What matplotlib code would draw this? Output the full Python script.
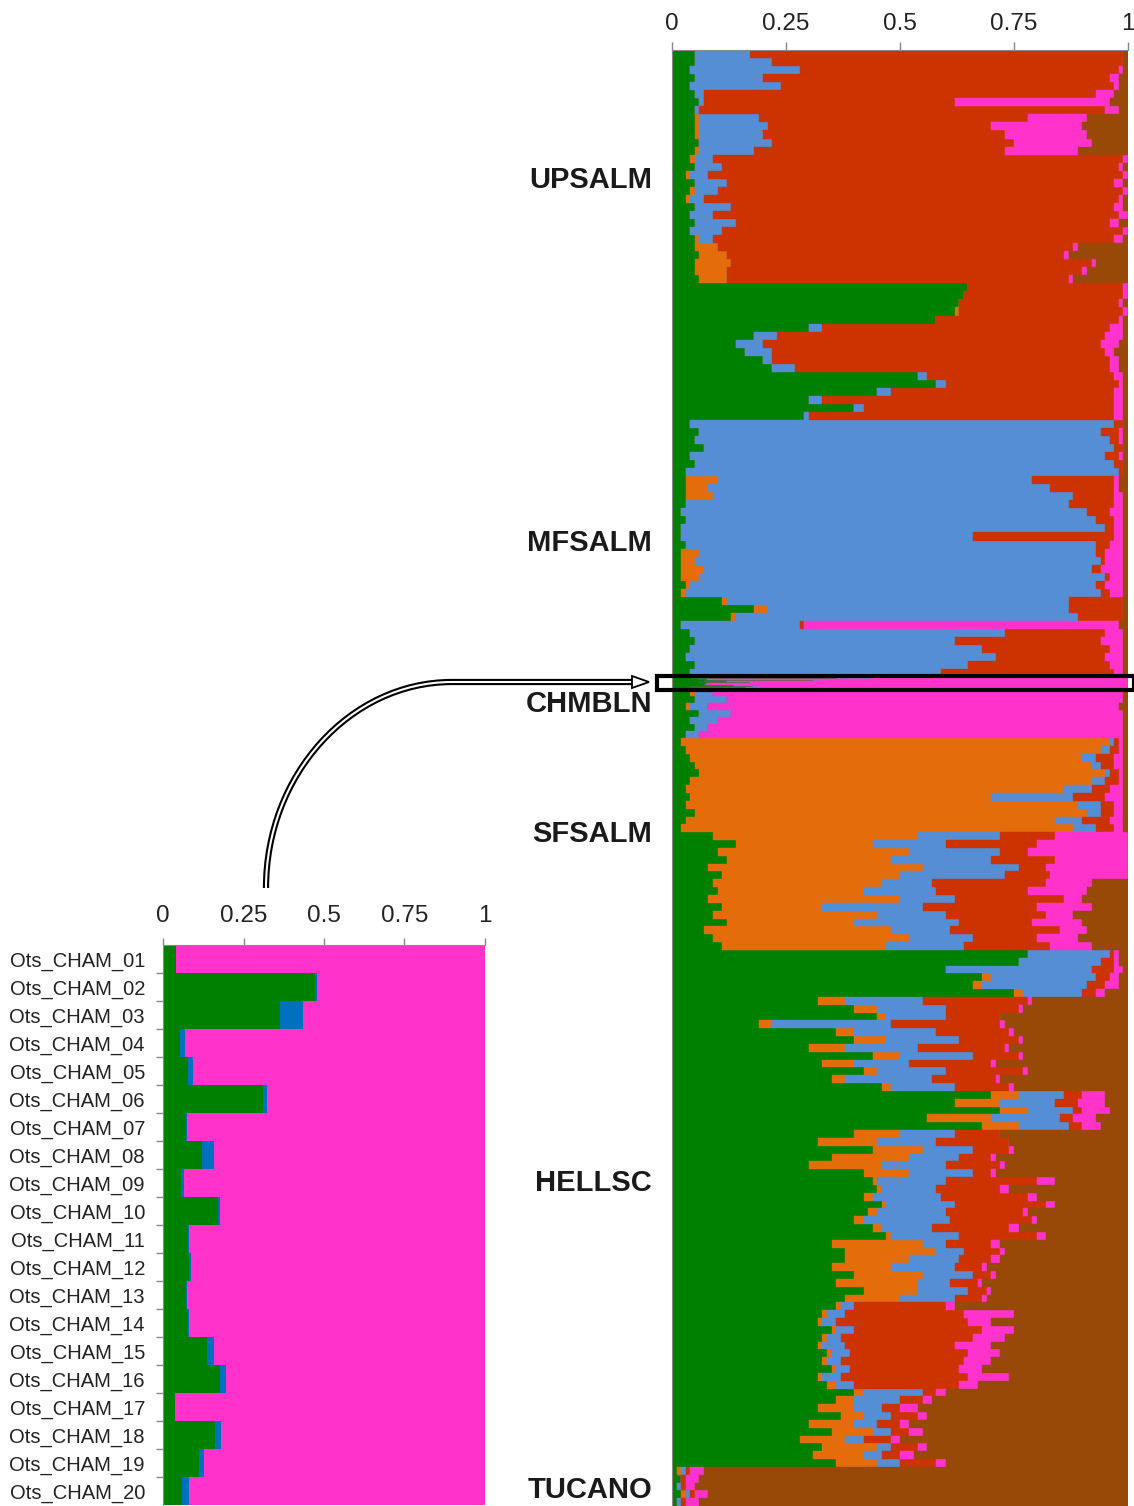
import matplotlib
matplotlib.use('Agg')
import matplotlib.pyplot as plt
from matplotlib.patches import Rectangle, PathPatch, Polygon
from matplotlib.path import Path

plt.rcParams['font.family'] = ['Liberation Sans', 'DejaVu Sans']

# cluster order (left to right) and colours
clusters = ['green', 'orange', 'blue', 'red', 'pink', 'brown']
colors = ['#008000', '#E46C0A', '#558ED5', '#CC3300', '#FF33CC', '#984807']

# populations and number of individuals in each
pops = ['UPSALM', 'MFSALM', 'CHMBLN', 'SFSALM', 'HELLSC', 'TUCANO']
pop_n = [617, 428, 102, 353, 862, 65]

# each row = cumulative % at the right edge of green, orange, blue, red, pink (brown fills to 100)
upsalm = [
    (5, 5, 17, 99, 99), (5, 5, 22, 99, 99), (4, 4, 28, 98, 99), (5, 5, 20, 96, 98), (4, 4, 24, 97, 98),
    (5, 5, 7, 93, 97), (6, 6, 7, 62, 96), (5, 5, 6, 95, 98),
    (5, 6, 19, 78, 91), (5, 6, 21, 70, 90), (5, 6, 20, 73, 91), (6, 6, 22, 75, 92), (5, 6, 18, 73, 89),
    (4, 5, 9, 99, 100), (5, 5, 11, 98, 99), (3, 4, 8, 99, 100), (5, 5, 12, 97, 99), (4, 5, 10, 99, 100),
    (3, 4, 7, 98, 99), (5, 5, 13, 97, 99), (4, 4, 9, 98, 100), (5, 5, 14, 96, 98), (4, 4, 11, 99, 100),
    (5, 6, 9, 97, 99),
    (5, 10, 10, 88, 89), (6, 12, 12, 86, 87), (5, 13, 13, 92, 93), (5, 12, 12, 90, 91), (6, 12, 12, 87, 88),
    (65, 65, 65, 99, 100), (64, 64, 64, 99, 100), (63, 63, 63, 98, 99), (62, 63, 63, 99, 100),
    (58, 58, 58, 98, 99),
    (30, 30, 33, 96, 99), (18, 18, 23, 95, 99), (14, 14, 20, 94, 98), (16, 16, 22, 95, 97),
    (20, 20, 22, 96, 98), (22, 22, 27, 96, 98), (54, 54, 56, 97, 99), (58, 58, 60, 98, 99),
    (45, 45, 48, 97, 99), (30, 30, 33, 97, 99), (40, 40, 42, 97, 99), (29, 29, 30, 97, 99),
]
mfsalm = [
    (4, 4, 97, 99, 99), (6, 6, 94, 98, 99), (5, 5, 96, 98, 99), (7, 7, 97, 99, 99), (4, 4, 95, 98, 99),
    (5, 5, 97, 99, 99), (3, 3, 98, 99, 99),
    (3, 10, 79, 97, 98), (3, 8, 83, 97, 98), (3, 9, 88, 97, 99),
    (3, 3, 87, 97, 99), (2, 2, 91, 96, 99), (3, 3, 93, 97, 99), (2, 2, 95, 97, 99), (2, 2, 66, 97, 99),
    (3, 3, 93, 96, 99),
    (2, 6, 93, 95, 99), (2, 5, 94, 95, 99), (2, 7, 92, 94, 99),
    (2, 6, 95, 96, 99), (3, 4, 93, 95, 99), (2, 3, 94, 96, 99),
    (11, 12, 87, 99, 99), (18, 21, 87, 99, 99), (13, 14, 89, 99, 99),
    (2, 2, 28, 29, 98),
    (4, 4, 73, 95, 99), (5, 5, 62, 94, 99), (4, 4, 68, 96, 99), (3, 3, 71, 95, 99), (5, 5, 65, 96, 99),
    (4, 4, 59, 97, 99),
]
# CHMBLN after the 20 individuals shown in the inset
chmbln = [
    (4, 5, 9, 9, 99), (5, 5, 12, 12, 99), (3, 4, 8, 8, 98), (6, 6, 13, 13, 99), (4, 4, 10, 10, 99),
    (5, 5, 8, 8, 99), (3, 3, 6, 6, 99),
]
sfsalm = [
    (2, 96, 97, 98, 99), (3, 94, 96, 98, 99), (4, 90, 93, 97, 99), (5, 92, 94, 97, 99), (6, 95, 96, 98, 99),
    (4, 92, 95, 98, 99), (3, 86, 92, 96, 99), (4, 70, 88, 95, 99), (3, 89, 94, 97, 99), (5, 91, 94, 97, 99),
    (3, 84, 90, 96, 99), (2, 88, 93, 97, 99),
    (9, 54, 72, 84, 100), (14, 44, 60, 80, 100), (10, 52, 72, 78, 100), (12, 48, 70, 84, 100),
    (8, 55, 76, 82, 100), (11, 50, 73, 83, 100),
    (9, 46, 57, 82, 92), (10, 42, 58, 78, 91), (8, 50, 62, 86, 90), (11, 33, 55, 80, 92), (9, 45, 60, 82, 88),
    (12, 40, 63, 79, 90), (7, 48, 61, 85, 91), (9, 52, 66, 80, 89), (11, 47, 64, 83, 92),
]
hellsc = [
    (78, 78, 96, 97, 98), (76, 76, 94, 97, 98), (60, 60, 92, 97, 99), (68, 70, 93, 96, 98), (66, 68, 91, 95, 98),
    (75, 77, 90, 93, 95), (32, 38, 55, 78, 79), (40, 45, 60, 76, 77),
    (45, 47, 60, 72, 72), (19, 22, 48, 72, 73), (36, 40, 58, 74, 75), (40, 47, 63, 76, 77), (30, 38, 54, 73, 74),
    (44, 50, 66, 76, 77), (33, 40, 52, 70, 71), (42, 45, 60, 77, 78), (35, 38, 57, 71, 72), (46, 48, 62, 74, 75),
    (70, 76, 86, 90, 95), (62, 72, 84, 89, 95), (72, 78, 88, 90, 96), (56, 70, 85, 88, 93), (68, 76, 87, 90, 94),
    (40, 50, 62, 72, 72), (32, 45, 58, 74, 74), (44, 55, 66, 74, 75), (35, 52, 63, 70, 71), (30, 46, 60, 72, 73),
    (42, 52, 66, 70, 71),
    (44, 45, 60, 80, 84), (45, 46, 58, 72, 74), (42, 44, 59, 78, 80), (46, 47, 62, 82, 84), (43, 45, 60, 77, 78),
    (40, 42, 61, 79, 80), (44, 46, 57, 74, 76), (47, 48, 63, 80, 82),
    (35, 55, 60, 70, 72), (38, 58, 64, 72, 73),
    (38, 52, 63, 70, 72), (35, 48, 62, 68, 69), (40, 55, 66, 70, 71), (36, 54, 61, 67, 68), (42, 54, 65, 69, 70),
    (38, 50, 62, 68, 69),
    (36, 37, 40, 60, 62), (33, 34, 38, 64, 75), (32, 33, 36, 65, 70), (35, 36, 40, 68, 75), (33, 34, 37, 66, 73),
    (32, 33, 38, 62, 70), (34, 35, 39, 65, 72), (33, 34, 37, 64, 70), (35, 36, 39, 63, 68), (32, 33, 37, 65, 74),
    (34, 36, 40, 63, 67),
    (40, 42, 55, 58, 60), (36, 40, 50, 55, 57), (32, 40, 46, 50, 54), (37, 42, 48, 54, 56), (30, 40, 45, 50, 52),
    (35, 44, 48, 52, 55), (28, 38, 42, 48, 50), (33, 45, 48, 54, 56), (31, 42, 46, 50, 53), (36, 45, 50, 58, 60),
]
tucano = [
    (1, 2, 3, 4, 7), (2, 2, 2, 3, 6), (1, 1, 2, 3, 5), (2, 3, 4, 5, 8), (1, 1, 2, 3, 6),
]
profiles = [upsalm, mfsalm, chmbln, sfsalm, hellsc, tucano]

# inset: first 20 CHMBLN individuals (green, blue; pink is the rest)
cham_ids = ['Ots_CHAM_%02d' % i for i in range(1, 21)]
cham_green = [0.041, 0.473, 0.362, 0.054, 0.077, 0.310, 0.071, 0.121, 0.057, 0.170,
              0.077, 0.080, 0.072, 0.078, 0.137, 0.178, 0.038, 0.162, 0.111, 0.059]
cham_blue = [0.0, 0.005, 0.074, 0.015, 0.015, 0.013, 0.004, 0.036, 0.009, 0.008,
             0.005, 0.008, 0.004, 0.004, 0.020, 0.018, 0.0, 0.019, 0.017, 0.023]

ticks = [0, 0.25, 0.5, 0.75, 1]
tick_labels = ['0', '0.25', '0.5', '0.75', '1']

W, H = 1134, 1506
fig = plt.figure(figsize=(W / 100, H / 100), dpi=100)

# ---- main panel ----
ax = fig.add_axes([672 / W, 0, 456 / W, 1456 / H])

starts, heights, rows = [], [], []
pop_start = []
y = 0
for name, n, prof in zip(pops, pop_n, profiles):
    pop_start.append(y)
    if name == 'CHMBLN':
        first = [(g * 100, g * 100, (g + b) * 100, (g + b) * 100, 100) for g, b in zip(cham_green, cham_blue)]
        hs = [1] * len(first) + [(n - len(first)) / len(prof)] * len(prof)
        prof = first + prof
    else:
        hs = [n / len(prof)] * len(prof)
    for h, r in zip(hs, prof):
        starts.append(y)
        heights.append(h)
        rows.append(r)
        y += h

for k, c in enumerate(colors):
    lefts, widths = [], []
    for r in rows:
        cum = [0] + list(r) + [100]
        lefts.append(cum[k] / 100)
        widths.append((cum[k + 1] - cum[k]) / 100)
    ax.barh(starts, widths, left=lefts, height=heights, align='edge',
            color=c, edgecolor=c, linewidth=0.3)

ax.set_xlim(0, 1)
ax.set_ylim(sum(pop_n), 0)
ax.xaxis.tick_top()
ax.set_xticks(ticks)
ax.set_xticklabels(tick_labels)
ax.tick_params(axis='x', length=6, width=1, color='#888888', pad=5, labelsize=17.5, labelcolor='#222222')
ax.set_yticks([])
for s in ['right', 'bottom']:
    ax.spines[s].set_visible(False)
for s in ['top', 'left']:
    ax.spines[s].set_color('#888888')

# population labels
label_shift = [-91, -9, -6, -16, -43, 6]
for name, s0, n, d in zip(pops, pop_start, pop_n, label_shift):
    ax.text(-0.044, s0 + n / 2 + d, name, ha='right', va='center',
            fontsize=21, fontweight='bold', color='#1a1a1a', transform=ax.get_yaxis_transform())

# box around the 20 individuals of the inset
cs = pop_start[2]
ax.add_patch(Rectangle((-0.032, cs - 1), 1.045, 22, fill=False, edgecolor='black',
                       linewidth=3, clip_on=False, zorder=5))

# ---- inset ----
ax2 = fig.add_axes([163 / W, 1 - 1505 / H, 322 / W, 560 / H])
yy = list(range(len(cham_ids)))
cham_pink = [1 - g - b for g, b in zip(cham_green, cham_blue)]
ax2.barh(yy, cham_green, height=1, align='edge', color='#008000', linewidth=0)
ax2.barh(yy, cham_blue, left=cham_green, height=1, align='edge', color='#0070C0', linewidth=0)
ax2.barh(yy, cham_pink, left=[g + b for g, b in zip(cham_green, cham_blue)], height=1,
         align='edge', color='#FF33CC', linewidth=0)
ax2.set_xlim(0, 1)
ax2.set_ylim(len(cham_ids), 0)
ax2.xaxis.tick_top()
ax2.set_xticks(ticks)
ax2.set_xticklabels(tick_labels)
ax2.tick_params(axis='x', length=5, width=1, color='#888888', pad=8, labelsize=17.5, labelcolor='#222222')
ax2.set_yticks(range(1, len(cham_ids)))
ax2.set_yticklabels([])
ax2.set_yticks([i + 0.5 for i in yy], minor=True)
ax2.set_yticklabels(cham_ids, minor=True)
ax2.tick_params(axis='y', which='major', length=5, width=1, color='#888888')
ax2.tick_params(axis='y', which='minor', length=0, pad=13, labelsize=14.5, labelcolor='#222222')
for s in ['right', 'bottom']:
    ax2.spines[s].set_visible(False)
for s in ['top', 'left']:
    ax2.spines[s].set_color('#888888')

# ---- curved arrow from inset to the box ----
ov = fig.add_axes([0, 0, 1, 1], facecolor='none')
ov.set_xlim(0, W)
ov.set_ylim(H, 0)
ov.axis('off')
verts = [(266, 888), (266, 775), (350, 682), (452, 682), (634, 682)]
codes = [Path.MOVETO, Path.CURVE4, Path.CURVE4, Path.CURVE4, Path.LINETO]
arc = Path(verts, codes)
ov.add_patch(PathPatch(arc, fill=False, edgecolor='black', linewidth=4.5, capstyle='butt'))
ov.add_patch(PathPatch(arc, fill=False, edgecolor='white', linewidth=1.5, capstyle='butt'))
ov.add_patch(Polygon([(632, 676), (649, 682), (632, 688)], closed=True,
                     facecolor='white', edgecolor='black', linewidth=1.3))

fig.savefig('out.png', dpi=100)
